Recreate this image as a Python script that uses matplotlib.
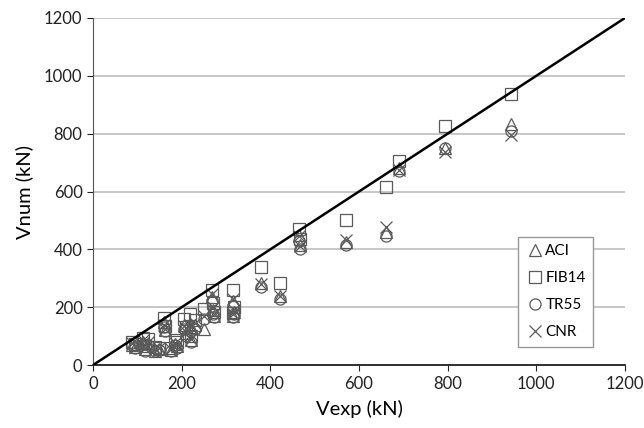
import numpy as np
import matplotlib
matplotlib.use('Agg')
import matplotlib.pyplot as plt

plt.rcParams['font.family'] = ['Lato', 'DejaVu Sans']

# DATOS (kN)
vexp = [88, 95, 112, 118, 125, 140, 150, 160, 162, 175, 185, 190, 205, 210,
        218, 222, 230, 250, 268, 270, 272, 315, 318, 316, 380, 421, 465, 468,
        570, 662, 690, 795, 942]
aci = [70, 62, 80, 55, 75, 50, 55, 150, 120, 52, 72, 65, 140, 110,
       130, 85, 140, 125, 235, 190, 170, 220, 185, 170, 285, 240, 450, 415,
       425, 460, 680, 752, 835]
fib14 = [80, 72, 95, 65, 90, 62, 60, 162, 135, 60, 85, 80, 160, 130,
         175, 100, 155, 195, 260, 215, 185, 258, 200, 180, 340, 283, 470, 435,
         500, 617, 705, 828, 937]
tr55 = [68, 60, 72, 50, 68, 48, 52, 130, 118, 50, 68, 60, 125, 100,
        118, 80, 125, 160, 220, 175, 165, 205, 175, 165, 270, 230, 430, 400,
        415, 445, 670, 750, 808]
cnr = [75, 65, 85, 58, 80, 55, 58, 140, 125, 55, 78, 70, 135, 115,
       140, 90, 145, 170, 245, 200, 175, 230, 190, 175, 280, 238, 445, 410,
       432, 478, 675, 735, 795]

series = [('ACI', aci, '^'), ('FIB14', fib14, 's'),
          ('TR55', tr55, 'o'), ('CNR', cnr, 'x')]

fig = plt.figure(figsize=(6.44, 4.28), dpi=100)
ax = fig.add_axes([0.1444, 0.147, 0.826, 0.811])

gris = '#5a5a5a'
for nombre, vals, mk in series:
    if mk == 'x':
        ax.plot(vexp, vals, linestyle='none', marker=mk, markersize=8,
                color=gris, markeredgewidth=0.9, label=nombre, zorder=3)
    else:
        ax.plot(vexp, vals, linestyle='none', marker=mk, markersize=8,
                markerfacecolor='none', markeredgecolor=gris,
                markeredgewidth=0.9, label=nombre, zorder=3)

# linea 1:1
ax.plot([0, 1200], [0, 1200], color='black', linewidth=1.8, zorder=4)

ax.set_xlim(0, 1200)
ax.set_ylim(0, 1200)
ax.set_xticks(np.arange(0, 1201, 200))
ax.set_yticks(np.arange(0, 1201, 200))
ax.yaxis.grid(True, color='#bdbdbd', linewidth=1.2)
ax.set_axisbelow(True)
for s in ['top', 'right']:
    ax.spines[s].set_visible(False)
ax.spines['left'].set_color('#555555')
ax.spines['bottom'].set_color('#222222')
ax.spines['bottom'].set_linewidth(1.3)
ax.tick_params(axis='both', labelsize=12, length=4, colors='#222222')

ax.set_xlabel('Vexp (kN)', fontsize=14.5, labelpad=6)
ax.set_ylabel('Vnum (kN)', fontsize=14.5, labelpad=8)

leg = ax.legend(loc='lower right', bbox_to_anchor=(0.955, 0.03),
                fontsize=11, fancybox=False, framealpha=1,
                edgecolor='#999999', handletextpad=0.1, labelspacing=0.85,
                borderpad=0.5, handlelength=1.2)

fig.savefig('out.png', dpi=100)
